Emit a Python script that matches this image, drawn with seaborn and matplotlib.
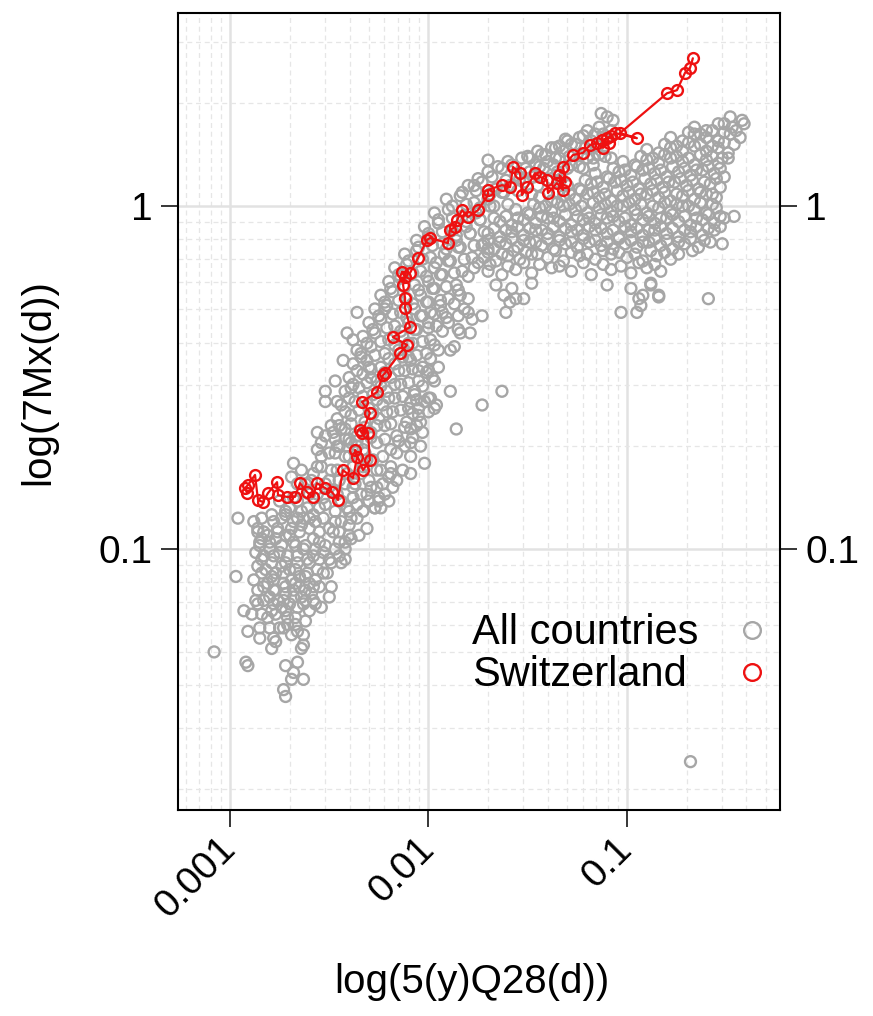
import numpy as np
import pandas as pd
import matplotlib
matplotlib.use("Agg")
import matplotlib.pyplot as plt
import seaborn as sns
from matplotlib.lines import Line2D
from matplotlib.ticker import LogLocator, NullFormatter, FixedLocator

# ---------------- data: (log10 5(y)Q28(d), log10 7Mx(d)) ----------------
gray_tail = [
    (-2.96, -0.91), (-2.88, -0.92), (-2.86, -0.94), (-2.85, -0.98), (-2.76, -0.94), (-2.79, -0.90), (-2.72, -0.90),
    (-2.97, -1.08), (-3.08, -1.30), (-2.92, -1.33), (-2.91, -1.34), (-2.93, -1.18), (-2.91, -1.24), (-2.85, -1.23),
    (-2.81, -1.20), (-2.77, -1.27), (-2.79, -1.29), (-2.72, -1.34), (-2.68, -1.36), (-2.69, -1.38), (-2.73, -1.41),
    (-2.72, -1.43), (-2.63, -1.38), (-2.66, -1.33), (-2.63, -1.25), (-2.64, -1.29), (-2.62, -1.21), (-2.67, -1.22),
    (-2.58, -1.11), (-2.49, -1.11), (-2.57, -1.16), (-2.54, -1.17), (-2.50, -1.14), (-2.42, -1.00), (-2.44, -1.04),
    (-2.42, -1.03), (-2.31, -0.94), (-2.39, -0.97), (-2.53, -1.07), (-2.88, -1.09), (-2.86, -1.12), (-2.87, -1.15),
    (-2.77, -1.12), (-2.78, -1.26), (-2.75, -1.23), (-2.85, -1.26), (-2.89, -1.19), (-2.86, -1.16), (-2.59, -1.13),
    (-2.64, -1.14), (-2.63, -1.28),
]
gray_core = [
    (-2.84, -0.97), (-2.80, -1.00), (-2.77, -0.97), (-2.72, -0.96), (-2.69, -0.94), (-2.64, -0.93), (-2.60, -0.91),
    (-2.83, -1.02), (-2.79, -1.04), (-2.75, -1.01), (-2.71, -1.02), (-2.67, -0.99), (-2.63, -1.00), (-2.58, -0.97),
    (-2.55, -0.98), (-2.82, -1.06), (-2.77, -1.07), (-2.74, -1.05), (-2.70, -1.06), (-2.66, -1.04), (-2.61, -1.03),
    (-2.58, -1.02), (-2.53, -1.01), (-2.81, -1.10), (-2.78, -1.09), (-2.73, -1.10), (-2.69, -1.09), (-2.65, -1.08),
    (-2.61, -1.07), (-2.56, -1.06), (-2.80, -1.14), (-2.76, -1.15), (-2.72, -1.13), (-2.68, -1.12), (-2.65, -1.11),
    (-2.60, -1.10), (-2.79, -1.18), (-2.74, -1.17), (-2.70, -1.16), (-2.66, -1.17), (-2.62, -1.15), (-2.71, -1.20),
    (-2.73, -1.23), (-2.69, -1.25), (-2.83, -0.95), (-2.87, -1.01), (-2.86, -1.05), (-2.48, -0.95), (-2.45, -0.98),
    (-2.50, -1.03), (-2.47, -0.92), (-2.40, -0.93), (-2.35, -0.96), (-2.36, -0.91),
]
gray_core_fill = [
    (-2.86, -0.95), (-2.81, -0.96), (-2.76, -0.95), (-2.70, -0.96), (-2.65, -0.95), (-2.60, -0.94), (-2.55, -0.95),
    (-2.50, -0.94), (-2.45, -0.95), (-2.40, -0.96), (-2.85, -0.99), (-2.80, -0.98), (-2.74, -0.99), (-2.68, -0.98),
    (-2.62, -0.99), (-2.57, -1.00), (-2.52, -0.99), (-2.47, -1.00), (-2.42, -0.98), (-2.84, -1.03), (-2.78, -1.02),
    (-2.72, -1.04), (-2.66, -1.02), (-2.60, -1.04), (-2.55, -1.03), (-2.49, -1.04), (-2.45, -1.02), (-2.84, -1.07),
    (-2.79, -1.08), (-2.73, -1.07), (-2.67, -1.06), (-2.62, -1.08), (-2.57, -1.09), (-2.51, -1.07), (-2.83, -1.11),
    (-2.78, -1.12), (-2.72, -1.11), (-2.67, -1.10), (-2.62, -1.12), (-2.55, -1.11), (-2.83, -1.15), (-2.78, -1.16),
    (-2.73, -1.15), (-2.68, -1.14), (-2.63, -1.16), (-2.58, -1.15), (-2.84, -1.19), (-2.77, -1.19), (-2.72, -1.18),
    (-2.67, -1.20), (-2.60, -1.18), (-2.80, -1.23), (-2.71, -1.22), (-2.66, -1.24), (-2.84, -0.91), (-2.78, -0.92),
    (-2.74, -0.91), (-2.68, -0.92), (-2.63, -0.91), (-2.57, -0.92), (-2.53, -0.91), (-2.44, -0.92), (-2.39, -0.91),
]
gray_mid = [
    (-2.70, -0.88), (-2.66, -0.86), (-2.61, -0.88), (-2.56, -0.84), (-2.52, -0.87), (-2.48, -0.83), (-2.44, -0.86),
    (-2.40, -0.89), (-2.36, -0.87), (-2.62, -0.81), (-2.58, -0.78), (-2.54, -0.76), (-2.50, -0.80), (-2.46, -0.77),
    (-2.42, -0.81), (-2.38, -0.82), (-2.34, -0.84), (-2.30, -0.86), (-2.27, -0.88), (-2.50, -0.72), (-2.46, -0.70),
    (-2.42, -0.73), (-2.38, -0.76), (-2.34, -0.78), (-2.30, -0.80), (-2.26, -0.82), (-2.22, -0.84), (-2.68, -0.75),
    (-2.69, -0.79), (-2.56, -0.71), (-2.52, -0.67), (-2.44, -0.65), (-2.40, -0.68), (-2.36, -0.70), (-2.32, -0.72),
    (-2.28, -0.74), (-2.24, -0.77), (-2.20, -0.79), (-2.18, -0.82), (-2.75, -0.86), (-2.66, -0.91), (-2.58, -0.90),
]
gray_mid_fill = [
    (-2.72, -0.89), (-2.64, -0.89), (-2.55, -0.88), (-2.47, -0.89), (-2.41, -0.88), (-2.33, -0.89), (-2.24, -0.88),
    (-2.68, -0.85), (-2.60, -0.84), (-2.53, -0.85), (-2.46, -0.84), (-2.38, -0.85), (-2.31, -0.84), (-2.25, -0.85),
    (-2.20, -0.86), (-2.66, -0.81), (-2.59, -0.80), (-2.52, -0.81), (-2.45, -0.80), (-2.37, -0.81), (-2.29, -0.82),
    (-2.23, -0.81), (-2.16, -0.80), (-2.64, -0.77), (-2.56, -0.76), (-2.49, -0.77), (-2.41, -0.78), (-2.33, -0.76),
    (-2.26, -0.77), (-2.19, -0.76), (-2.13, -0.77), (-2.54, -0.73), (-2.47, -0.72), (-2.40, -0.73), (-2.31, -0.74),
    (-2.23, -0.73), (-2.16, -0.72), (-2.09, -0.73),
]
gray_band = [
    (-2.45, -0.70), (-2.39, -0.69), (-2.33, -0.71), (-2.26, -0.69), (-2.19, -0.71), (-2.12, -0.70),
    (-2.48, -0.66), (-2.42, -0.65), (-2.36, -0.67), (-2.29, -0.66), (-2.22, -0.64), (-2.16, -0.67), (-2.09, -0.65), (-2.03, -0.66),
    (-2.46, -0.62), (-2.39, -0.61), (-2.32, -0.63), (-2.25, -0.62), (-2.18, -0.60), (-2.11, -0.63), (-2.05, -0.61),
    (-2.44, -0.58), (-2.37, -0.57), (-2.30, -0.59), (-2.23, -0.58), (-2.17, -0.56), (-2.10, -0.59), (-2.02, -0.57), (-1.96, -0.58),
    (-2.42, -0.54), (-2.35, -0.53), (-2.28, -0.55), (-2.21, -0.54), (-2.14, -0.52), (-2.07, -0.55),
    (-2.40, -0.50), (-2.33, -0.49), (-2.26, -0.51), (-2.19, -0.50), (-2.12, -0.48), (-2.05, -0.51), (-1.98, -0.50),
    (-2.38, -0.46), (-2.31, -0.45), (-2.24, -0.47), (-2.17, -0.46), (-2.10, -0.44), (-2.03, -0.47),
    (-2.36, -0.42), (-2.29, -0.41), (-2.22, -0.43), (-2.15, -0.42), (-2.08, -0.40), (-2.01, -0.43), (-1.95, -0.42),
    (-2.33, -0.38), (-2.27, -0.37), (-2.20, -0.39), (-2.13, -0.38), (-2.06, -0.36), (-1.99, -0.39),
    (-2.30, -0.34), (-2.24, -0.33), (-2.17, -0.35), (-2.10, -0.34), (-2.03, -0.32), (-1.96, -0.35), (-1.90, -0.34),
    (-2.27, -0.30), (-2.21, -0.29), (-2.14, -0.31), (-2.07, -0.30), (-2.00, -0.28), (-1.93, -0.31),
    (-2.24, -0.26), (-2.18, -0.25), (-2.11, -0.27), (-2.04, -0.26), (-1.97, -0.24), (-1.90, -0.27), (-1.84, -0.26),
    (-2.20, -0.22), (-2.14, -0.21), (-2.07, -0.23), (-2.00, -0.22), (-1.93, -0.20), (-1.86, -0.23),
    (-2.17, -0.18), (-2.11, -0.17), (-2.04, -0.19), (-1.97, -0.18), (-1.90, -0.16), (-1.83, -0.19), (-1.77, -0.18),
    (-2.12, -0.14), (-2.06, -0.13), (-1.99, -0.15), (-1.92, -0.14), (-1.85, -0.12), (-1.78, -0.15),
    (-2.06, -0.10), (-2.00, -0.09), (-1.93, -0.11), (-1.86, -0.10), (-1.79, -0.08), (-1.72, -0.11),
    (-2.02, -0.06), (-1.95, -0.05), (-1.88, -0.07), (-1.81, -0.06), (-1.74, -0.04),
    (-1.97, -0.02), (-1.90, -0.01), (-1.83, -0.03), (-1.76, -0.02), (-1.69, 0.00),
    (-1.91, 0.02), (-1.84, 0.03), (-1.77, 0.01), (-1.70, 0.02), (-1.63, 0.04),
]
gray_band_fill = [
    (-2.42, -0.68), (-2.36, -0.685), (-2.29, -0.675), (-2.22, -0.68), (-2.15, -0.685), (-2.08, -0.675),
    (-2.45, -0.64), (-2.39, -0.635), (-2.32, -0.645), (-2.26, -0.64), (-2.19, -0.635), (-2.12, -0.645), (-2.06, -0.64),
    (-2.42, -0.60), (-2.35, -0.595), (-2.28, -0.605), (-2.21, -0.60), (-2.14, -0.595), (-2.08, -0.605), (-2.00, -0.60),
    (-2.40, -0.56), (-2.33, -0.555), (-2.26, -0.565), (-2.20, -0.56), (-2.13, -0.555), (-2.06, -0.565), (-1.99, -0.56),
    (-2.38, -0.52), (-2.31, -0.515), (-2.24, -0.525), (-2.17, -0.52), (-2.10, -0.515), (-2.03, -0.525),
    (-2.36, -0.48), (-2.29, -0.475), (-2.22, -0.485), (-2.15, -0.48), (-2.08, -0.475), (-2.01, -0.485),
    (-2.34, -0.44), (-2.27, -0.435), (-2.20, -0.445), (-2.13, -0.44), (-2.06, -0.435), (-1.99, -0.445),
    (-2.31, -0.40), (-2.24, -0.395), (-2.17, -0.405), (-2.10, -0.40), (-2.03, -0.395), (-1.97, -0.405),
    (-2.28, -0.36), (-2.21, -0.355), (-2.14, -0.365), (-2.07, -0.36), (-2.00, -0.355), (-1.93, -0.365),
    (-2.25, -0.32), (-2.18, -0.315), (-2.11, -0.325), (-2.04, -0.32), (-1.97, -0.315), (-1.91, -0.325),
    (-2.22, -0.28), (-2.15, -0.275), (-2.08, -0.285), (-2.01, -0.28), (-1.94, -0.275), (-1.87, -0.285),
    (-2.19, -0.24), (-2.12, -0.235), (-2.05, -0.245), (-1.98, -0.24), (-1.91, -0.235), (-1.85, -0.245),
    (-2.15, -0.20), (-2.08, -0.195), (-2.01, -0.205), (-1.94, -0.20), (-1.87, -0.195), (-1.80, -0.205),
    (-2.10, -0.16), (-2.03, -0.155), (-1.96, -0.165), (-1.89, -0.16), (-1.82, -0.155), (-1.75, -0.165),
    (-2.05, -0.12), (-1.98, -0.115), (-1.91, -0.125), (-1.84, -0.12), (-1.77, -0.115), (-1.70, -0.125),
    (-2.00, -0.08), (-1.93, -0.075), (-1.86, -0.085), (-1.79, -0.08), (-1.72, -0.075),
    (-1.95, -0.04), (-1.88, -0.035), (-1.81, -0.045), (-1.74, -0.04), (-1.67, -0.035),
    (-1.88, 0.00), (-1.81, 0.005), (-1.74, -0.005), (-1.67, 0.00), (-1.60, 0.005),
    (-1.83, 0.04), (-1.76, 0.045), (-1.69, 0.035), (-1.62, 0.04), (-1.55, 0.045), (-1.48, 0.035),
]
gray_band_edges = [
    (-1.89, -0.54), (-1.86, -0.65), (-1.97, -0.59), (-2.04, -0.63), (-2.00, -0.56), (-2.05, -0.59), (-2.09, -0.69),
    (-2.04, -0.70), (-2.02, -0.75), (-2.09, -0.78), (-2.19, -0.78), (-2.25, -0.86), (-2.27, -0.88), (-2.09, -0.45),
    (-2.05, -0.48), (-2.00, -0.48), (-1.95, -0.47), (-1.97, -0.51), (-2.07, -0.54), (-2.09, -0.57), (-1.87, -0.41),
    (-1.89, -0.42), (-1.84, -0.37), (-1.79, -0.37), (-1.85, -0.32), (-1.80, -0.31), (-1.94, -0.29), (-1.99, -0.31),
    (-2.00, -0.34), (-2.52, -0.54), (-2.52, -0.57), (-2.54, -0.69), (-2.56, -0.66), (-2.47, -0.51), (-2.43, -0.45),
    (-2.36, -0.31), (-2.41, -0.37), (-2.38, -0.39), (-2.34, -0.43), (-2.30, -0.47), (-2.29, -0.50), (-2.39, -0.53),
    (-2.46, -0.57), (-2.49, -0.64), (-2.47, -0.68), (-2.22, -0.30), (-1.82, -0.30), (-1.78, -0.33), (-1.85, -0.36),
    (-1.80, -0.27),
]
gray_upper = [
    (-1.80, 0.06), (-1.73, 0.07), (-1.66, 0.05), (-1.59, 0.06), (-1.52, 0.07), (-1.45, 0.06), (-1.38, 0.08),
    (-1.70, 0.10), (-1.63, 0.11), (-1.56, 0.09), (-1.49, 0.10), (-1.42, 0.11), (-1.35, 0.10), (-1.28, 0.12), (-1.22, 0.11),
    (-1.60, 0.13), (-1.53, 0.14), (-1.46, 0.12), (-1.40, 0.13), (-1.34, 0.14), (-1.27, 0.15), (-1.20, 0.14),
    (-1.14, 0.15), (-1.08, 0.14), (-1.45, 0.16), (-1.38, 0.17), (-1.32, 0.16), (-1.26, 0.18), (-1.30, 0.19),
    (-1.24, 0.20), (-1.18, 0.19), (-1.12, 0.21), (-1.20, 0.22), (-1.14, 0.23), (-1.08, 0.22), (-1.70, 0.134),
    (-1.49, 0.14), (-1.41, 0.15), (-1.36, 0.17), (-1.31, 0.195), (-1.13, 0.27), (-1.07, 0.25), (-1.10, 0.26),
    (-1.77, 0.06),
    (-1.75, 0.08), (-1.68, 0.085), (-1.61, 0.075), (-1.54, 0.08), (-1.47, 0.085), (-1.40, 0.075), (-1.33, 0.08),
    (-1.65, 0.115), (-1.58, 0.12), (-1.51, 0.11), (-1.44, 0.115), (-1.37, 0.12), (-1.30, 0.11), (-1.24, 0.115),
    (-1.17, 0.12), (-1.50, 0.145), (-1.43, 0.15), (-1.36, 0.14), (-1.29, 0.145), (-1.23, 0.15), (-1.17, 0.14),
    (-1.11, 0.145), (-1.34, 0.175), (-1.28, 0.18), (-1.21, 0.17), (-1.15, 0.175), (-1.22, 0.205), (-1.16, 0.21),
    (-1.10, 0.20),
]
gray_branch = [
    (-0.66, 0.23), (-0.60, 0.22), (-0.54, 0.24), (-0.47, 0.23), (-0.42, 0.25),
    (-0.78, 0.20), (-0.72, 0.19), (-0.66, 0.21), (-0.60, 0.20), (-0.54, 0.19), (-0.48, 0.21), (-0.43, 0.20),
    (-0.90, 0.165), (-0.84, 0.155), (-0.78, 0.17), (-0.72, 0.16), (-0.66, 0.175), (-0.60, 0.16), (-0.54, 0.17), (-0.49, 0.155),
    (-1.02, 0.13), (-0.96, 0.12), (-0.90, 0.135), (-0.84, 0.125), (-0.78, 0.14), (-0.72, 0.13), (-0.66, 0.12),
    (-0.60, 0.135), (-0.54, 0.125), (-0.49, 0.14),
    (-1.16, 0.095), (-1.10, 0.085), (-1.04, 0.10), (-0.98, 0.09), (-0.92, 0.105), (-0.86, 0.095), (-0.80, 0.085),
    (-0.74, 0.10), (-0.68, 0.09), (-0.62, 0.105), (-0.56, 0.095), (-0.51, 0.085),
    (-1.30, 0.06), (-1.24, 0.05), (-1.18, 0.065), (-1.12, 0.055), (-1.06, 0.07), (-1.00, 0.06), (-0.94, 0.05),
    (-0.88, 0.065), (-0.82, 0.055), (-0.76, 0.07), (-0.70, 0.06), (-0.64, 0.05), (-0.58, 0.065), (-0.53, 0.055),
    (-1.44, 0.025), (-1.38, 0.015), (-1.32, 0.03), (-1.26, 0.02), (-1.20, 0.035), (-1.14, 0.025), (-1.08, 0.015),
    (-1.02, 0.03), (-0.96, 0.02), (-0.90, 0.035), (-0.84, 0.025), (-0.78, 0.015), (-0.72, 0.03), (-0.66, 0.02),
    (-0.60, 0.035), (-0.55, 0.025),
    (-1.56, -0.01), (-1.50, -0.02), (-1.44, -0.005), (-1.38, -0.015), (-1.32, 0.0), (-1.26, -0.01), (-1.20, -0.02),
    (-1.14, -0.005), (-1.08, -0.015), (-1.02, 0.0), (-0.96, -0.01), (-0.90, -0.02), (-0.84, -0.005), (-0.78, -0.015),
    (-0.72, 0.0), (-0.66, -0.01), (-0.60, -0.02), (-0.55, -0.005),
    (-1.64, -0.045), (-1.58, -0.055), (-1.52, -0.04), (-1.46, -0.05), (-1.40, -0.035), (-1.34, -0.045), (-1.28, -0.055),
    (-1.22, -0.04), (-1.16, -0.05), (-1.10, -0.035), (-1.04, -0.045), (-0.98, -0.055), (-0.92, -0.04), (-0.86, -0.05),
    (-0.80, -0.035), (-0.74, -0.045), (-0.68, -0.055), (-0.62, -0.04), (-0.56, -0.05), (-0.51, -0.035),
    (-1.70, -0.08), (-1.64, -0.09), (-1.58, -0.075), (-1.52, -0.085), (-1.46, -0.07), (-1.40, -0.08), (-1.34, -0.09),
    (-1.28, -0.075), (-1.22, -0.085), (-1.16, -0.07), (-1.10, -0.08), (-1.04, -0.09), (-0.98, -0.075), (-0.92, -0.085),
    (-0.86, -0.07), (-0.80, -0.08), (-0.74, -0.09), (-0.68, -0.075), (-0.62, -0.085), (-0.56, -0.07),
    (-1.73, -0.115), (-1.67, -0.125), (-1.61, -0.11), (-1.55, -0.12), (-1.49, -0.105), (-1.43, -0.115), (-1.37, -0.125),
    (-1.31, -0.11), (-1.25, -0.12), (-1.19, -0.105), (-1.13, -0.115), (-1.07, -0.125), (-1.01, -0.11), (-0.95, -0.12),
    (-0.89, -0.105), (-0.83, -0.115), (-0.77, -0.125), (-0.71, -0.11), (-0.64, -0.12), (-0.58, -0.105),
    (-1.72, -0.15), (-1.66, -0.16), (-1.60, -0.145), (-1.54, -0.155), (-1.48, -0.14), (-1.40, -0.15), (-1.32, -0.16),
    (-1.24, -0.145), (-1.16, -0.155), (-1.08, -0.14), (-1.00, -0.15), (-0.92, -0.16), (-0.85, -0.145), (-0.78, -0.155),
    (-1.70, -0.19), (-1.63, -0.20), (-1.56, -0.185), (-1.48, -0.195), (-1.38, -0.18), (-1.28, -0.19), (-1.18, -0.20),
    (-1.08, -0.185), (-0.98, -0.195), (-0.90, -0.18), (-0.83, -0.19),
    (-1.66, -0.23), (-1.58, -0.24), (-1.48, -0.225), (-1.10, -0.23), (-0.98, -0.24), (-0.88, -0.225),
    (-1.62, -0.26), (-1.52, -0.27), (-0.92, -0.26), (-0.84, -0.265),
]
gray_branch_fill = [
    (-0.69, 0.215), (-0.63, 0.21), (-0.57, 0.22), (-0.51, 0.215), (-0.45, 0.22),
    (-0.81, 0.18), (-0.75, 0.175), (-0.69, 0.185), (-0.63, 0.18), (-0.57, 0.175), (-0.51, 0.185), (-0.46, 0.18),
    (-0.93, 0.145), (-0.87, 0.14), (-0.81, 0.15), (-0.75, 0.145), (-0.69, 0.14), (-0.63, 0.15), (-0.57, 0.145), (-0.52, 0.14),
    (-1.07, 0.11), (-1.01, 0.105), (-0.95, 0.115), (-0.89, 0.11), (-0.83, 0.105), (-0.77, 0.115), (-0.71, 0.11),
    (-0.65, 0.105), (-0.59, 0.115), (-0.53, 0.11),
    (-1.21, 0.075), (-1.15, 0.07), (-1.09, 0.08), (-1.03, 0.075), (-0.97, 0.07), (-0.91, 0.08), (-0.85, 0.075),
    (-0.79, 0.07), (-0.73, 0.08), (-0.67, 0.075), (-0.61, 0.07), (-0.55, 0.08),
    (-1.35, 0.04), (-1.29, 0.035), (-1.23, 0.045), (-1.17, 0.04), (-1.11, 0.035), (-1.05, 0.045), (-0.99, 0.04),
    (-0.93, 0.035), (-0.87, 0.045), (-0.81, 0.04), (-0.75, 0.035), (-0.69, 0.045), (-0.63, 0.04), (-0.57, 0.035),
    (-1.47, 0.005), (-1.41, 0.0), (-1.35, 0.01), (-1.29, 0.005), (-1.23, 0.0), (-1.17, 0.01), (-1.11, 0.005),
    (-1.05, 0.0), (-0.99, 0.01), (-0.93, 0.005), (-0.87, 0.0), (-0.81, 0.01), (-0.75, 0.005), (-0.69, 0.0),
    (-0.63, 0.01), (-0.57, 0.005),
    (-1.61, -0.03), (-1.55, -0.035), (-1.49, -0.025), (-1.43, -0.03), (-1.37, -0.035), (-1.31, -0.025), (-1.25, -0.03),
    (-1.19, -0.035), (-1.13, -0.025), (-1.07, -0.03), (-1.01, -0.035), (-0.95, -0.025), (-0.89, -0.03), (-0.83, -0.035),
    (-0.77, -0.025), (-0.71, -0.03), (-0.65, -0.035), (-0.59, -0.025), (-0.53, -0.03),
    (-1.67, -0.065), (-1.61, -0.07), (-1.55, -0.06), (-1.49, -0.065), (-1.43, -0.07), (-1.37, -0.06), (-1.31, -0.065),
    (-1.25, -0.07), (-1.19, -0.06), (-1.13, -0.065), (-1.07, -0.07), (-1.01, -0.06), (-0.95, -0.065), (-0.89, -0.07),
    (-0.83, -0.06), (-0.77, -0.065), (-0.71, -0.07), (-0.65, -0.06), (-0.59, -0.065),
    (-1.70, -0.10), (-1.64, -0.105), (-1.58, -0.095), (-1.52, -0.10), (-1.46, -0.105), (-1.40, -0.095), (-1.34, -0.10),
    (-1.28, -0.105), (-1.22, -0.095), (-1.16, -0.10), (-1.10, -0.105), (-1.04, -0.095), (-0.98, -0.10), (-0.92, -0.105),
    (-0.86, -0.095), (-0.80, -0.10), (-0.74, -0.105), (-0.68, -0.095), (-0.61, -0.10),
    (-1.70, -0.135), (-1.63, -0.14), (-1.57, -0.13), (-1.51, -0.135), (-1.45, -0.14), (-1.36, -0.13), (-1.28, -0.135),
    (-1.20, -0.14), (-1.12, -0.13), (-1.04, -0.135), (-0.96, -0.14), (-0.88, -0.13), (-0.81, -0.135), (-0.74, -0.14),
    (-0.67, -0.13),
    (-1.69, -0.17), (-1.60, -0.175), (-1.52, -0.165), (-1.44, -0.17), (-1.34, -0.175), (-1.22, -0.165), (-1.12, -0.17),
    (-1.03, -0.175), (-0.94, -0.165), (-0.86, -0.17),
]
gray_outliers = [
    (-0.68, -1.62), (-0.59, -0.27), (-0.95, -0.31), (-0.93, -0.29), (-1.03, -0.31), (-1.73, -0.32), (-1.61, -0.31),
    (-1.59, -0.28), (-1.56, -0.27), (-1.63, -0.54), (-1.73, -0.58), (-0.88, -0.23), (-0.94, -0.27), (-0.84, -0.26),
    (-0.46, -0.03), (-0.52, -0.11), (-0.53, -0.06), (-0.41, 0.24), (-0.48, 0.26), (-0.51, 0.24),
]
swiss_path = [
    (-2.914, -0.837), (-2.924, -0.822), (-2.909, -0.813), (-2.874, -0.784), (-2.859, -0.857), (-2.834, -0.863),
    (-2.809, -0.837), (-2.763, -0.805), (-2.758, -0.843), (-2.713, -0.848), (-2.673, -0.848), (-2.647, -0.808),
    (-2.612, -0.834), (-2.582, -0.848), (-2.562, -0.808), (-2.521, -0.822), (-2.486, -0.834), (-2.456, -0.857),
    (-2.431, -0.770), (-2.380, -0.793), (-2.360, -0.732), (-2.370, -0.711), (-2.330, -0.770), (-2.295, -0.741),
    (-2.305, -0.662), (-2.345, -0.653), (-2.335, -0.662), (-2.295, -0.603), (-2.335, -0.571), (-2.259, -0.542),
    (-2.229, -0.493), (-2.219, -0.487), (-2.144, -0.429), (-2.108, -0.405), (-2.179, -0.382), (-2.093, -0.353),
    (-2.118, -0.297), (-2.118, -0.268), (-2.128, -0.230), (-2.118, -0.207), (-2.134, -0.192), (-2.093, -0.195),
    (-2.053, -0.152), (-2.008, -0.099), (-1.992, -0.093), (-1.902, -0.108), (-1.892, -0.070), (-1.866, -0.061),
    (-1.856, -0.041), (-1.831, -0.012), (-1.801, -0.032), (-1.751, -0.012), (-1.700, 0.032), (-1.700, 0.047),
    (-1.630, 0.061), (-1.589, 0.055), (-1.574, 0.114), (-1.539, 0.096), (-1.529, 0.032), (-1.504, 0.055),
    (-1.463, 0.096), (-1.438, 0.085), (-1.403, 0.076), (-1.398, 0.038), (-1.353, 0.067), (-1.322, 0.047),
    (-1.340, 0.090), (-1.310, 0.070), (-1.322, 0.114), (-1.272, 0.149), (-1.222, 0.155), (-1.186, 0.178),
    (-1.151, 0.184), (-1.120, 0.170), (-1.090, 0.185), (-1.126, 0.192), (-1.101, 0.198), (-1.080, 0.205),
    (-1.060, 0.213), (-0.950, 0.198), (-1.035, 0.213), (-0.798, 0.329), (-0.748, 0.338), (-0.708, 0.388),
    (-0.683, 0.402), (-0.668, 0.431),
]

x_ticks = [0.001, 0.01, 0.1]
x_tick_labels = ["0.001", "0.01", "0.1"]
y_ticks = [0.1, 1]
y_tick_labels = ["0.1", "1"]
x_label = "log(5(y)Q28(d))"
y_label = "log(7Mx(d))"
legend_labels = ["All countries", "Switzerland"]

# ---------------- build frames ----------------
gray_all = (gray_tail + gray_core + gray_core_fill + gray_mid + gray_mid_fill + gray_band + gray_band_fill
            + gray_band_edges + gray_upper + gray_branch + gray_branch_fill + gray_outliers)
gray_arr = np.array(gray_all)
df_all = pd.DataFrame({"q28": 10 ** gray_arr[:, 0], "mx": 10 ** gray_arr[:, 1]})
sw_arr = np.array(swiss_path)
df_sw = pd.DataFrame({"q28": 10 ** sw_arr[:, 0], "mx": 10 ** sw_arr[:, 1]})

# ---------------- styling ----------------
sns.set_style("white")
plt.rcParams["font.family"] = ["Liberation Sans", "DejaVu Sans"]
plt.rcParams["text.color"] = "black"
plt.rcParams["xtick.color"] = "black"
plt.rcParams["ytick.color"] = "black"
plt.rcParams["axes.labelcolor"] = "black"

GRAY = "#A6A6A6"
RED = "#EE1111"

fig = plt.figure(figsize=(8.73, 10.16), dpi=100)
ax = fig.add_axes([178 / 873, 1 - 810 / 1016, (780 - 178) / 873, (810 - 13) / 1016])

sns.scatterplot(data=df_all, x="q28", y="mx", ax=ax, marker="o", s=62,
                color=GRAY, linewidth=1.7, legend=False, zorder=3)
pts = ax.collections[-1]
pts.set_facecolor("none")
pts.set_edgecolor(GRAY)

sns.lineplot(data=df_sw, x="q28", y="mx", ax=ax, sort=False, estimator=None,
             color=RED, linewidth=1.6, marker="o", markersize=7.8,
             markerfacecolor="none", markeredgecolor=RED, markeredgewidth=1.7,
             legend=False, zorder=4)

ax.set_xscale("log")
ax.set_yscale("log")
ax.set_xlim(10 ** -3.262, 10 ** -0.229)
ax.set_ylim(10 ** -1.761, 10 ** 0.563)

# grid
ax.xaxis.set_minor_locator(LogLocator(base=10, subs=np.arange(2, 10)))
ax.yaxis.set_minor_locator(LogLocator(base=10, subs=np.arange(2, 10)))
ax.xaxis.set_minor_formatter(NullFormatter())
ax.yaxis.set_minor_formatter(NullFormatter())
ax.grid(which="major", color="#E2E2E2", linewidth=1.8, linestyle="-")
ax.grid(which="minor", color="#E6E6E6", linewidth=0.9, linestyle=(0, (4, 3)))
ax.set_axisbelow(True)

ax.xaxis.set_major_locator(FixedLocator(x_ticks))
ax.yaxis.set_major_locator(FixedLocator(y_ticks))
ax.set_xticklabels(x_tick_labels, rotation=45, ha="right", va="center", rotation_mode="anchor")
ax.set_yticklabels(y_tick_labels)
ax.tick_params(which="major", direction="out", length=12.2, width=1.1, color="black", labelcolor="black",
               labelsize=28, pad=6, bottom=True, left=True, right=True, labelright=True, top=False)
ax.tick_params(axis="x", pad=12)
ax.tick_params(which="minor", length=0)

for sp in ax.spines.values():
    sp.set_color("black")
    sp.set_linewidth(1.5)
    sp.set_visible(True)

ax.set_xlabel("")
ax.set_ylabel("")
fig.text(472 / 873, 1 - 982 / 1016, x_label, ha="center", va="center", fontsize=29, color="black")
fig.text(38 / 873, 1 - 382 / 1016, y_label, ha="center", va="center", rotation=90, fontsize=29, color="black")

# legend: markers via ax.legend, labels left-aligned as text
handles = [Line2D([], [], linestyle="none", marker="o", markersize=12, markerfacecolor="none",
                  markeredgecolor=GRAY, markeredgewidth=1.7),
           Line2D([], [], linestyle="none", marker="o", markersize=12, markerfacecolor="none",
                  markeredgecolor=RED, markeredgewidth=1.7)]
ax.legend(handles=handles, labels=["", ""], frameon=False, loc="center",
          bbox_to_anchor=(0.953, 0.1955), fontsize=30, handletextpad=0, handlelength=1.0,
          labelspacing=0.05, borderaxespad=0, borderpad=0)
ax.text(0.488, 0.222, legend_labels[0], transform=ax.transAxes, ha="left", va="center", fontsize=30, color="black")
ax.text(0.488, 0.169, legend_labels[1], transform=ax.transAxes, ha="left", va="center", fontsize=30, color="black")

fig.savefig("out.png", dpi=100)
